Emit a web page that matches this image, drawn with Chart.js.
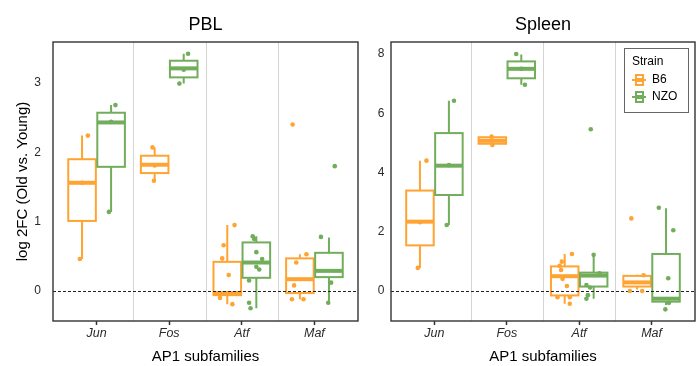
<!DOCTYPE html>
<html>
<head>
<meta charset="utf-8">
<script src="https://cdn.jsdelivr.net/npm/chart.js@4.4.0/dist/chart.umd.min.js"></script>
<style>
  body { margin: 0; background: #fff; width: 699px; height: 366px; overflow: hidden; position: relative; }
  #pbl { position: absolute; left: 0; top: 0; }
  #spleen { position: absolute; left: 362px; top: 0; }
</style>
</head>
<body>
<canvas id="pbl" width="362" height="366"></canvas>
<canvas id="spleen" width="337" height="366"></canvas>
<script>
const categories = ["Jun", "Fos", "Atf", "Maf"];
const strains = ["B6", "NZO"];
const pblTicks = [0, 1, 2, 3];
const spleenTicks = [0, 2, 4, 6, 8];

// box stats per category: [lower whisker, Q1, median, Q3, upper whisker]
const pblB6Box = [[0.46, 1.01, 1.56, 1.90, 2.24], [1.59, 1.70, 1.82, 1.95, 2.07], [-0.19, -0.06, -0.03, 0.42, 0.95], [-0.12, -0.03, 0.17, 0.47, 0.53]];
const pblNzoBox = [[1.14, 1.79, 2.43, 2.57, 2.68], [2.99, 3.08, 3.21, 3.32, 3.42], [-0.25, 0.19, 0.41, 0.70, 0.79], [-0.17, 0.20, 0.29, 0.55, 0.77]];
const spleenB6Box = [[0.78, 1.54, 2.34, 3.39, 4.40], [4.93, 4.97, 5.07, 5.19, 5.21], [-0.43, -0.15, 0.50, 0.83, 1.25], [0.05, 0.15, 0.29, 0.51, 0.55]];
const spleenNzoBox = [[2.23, 3.24, 4.23, 5.33, 6.42], [6.96, 7.18, 7.50, 7.75, 7.98], [-0.26, 0.15, 0.52, 0.62, 1.22], [-0.47, -0.36, -0.26, 1.25, 2.79]];

// single samples per category
const pblB6Pts = [[0.46, 1.56, 2.24], [1.59, 1.81, 2.07], [0.95, 0.66, 0.47, 0.23, -0.10, -0.19], [2.40, 0.53, 0.41, 0.08, -0.12, -0.12]];
const pblNzoPts = [[1.14, 2.44, 2.68], [2.99, 3.19, 3.42], [0.79, 0.75, 0.56, 0.46, 0.35, 0.31, 0.15, -0.17, -0.25], [1.80, 0.78, 0.12, -0.17]];
const spleenB6Pts = [[0.78, 2.32, 4.40], [4.93, 5.07, 5.21], [1.25, 0.99, 0.85, 0.71, 0.41, 0.17, -0.21, -0.21, -0.43], [2.45, 0.53, 0.0, 0.0]];
const spleenNzoPts = [[2.23, 4.25, 6.42], [6.96, 7.50, 8.00], [5.46, 1.22, 0.60, 0.20, 0.12, -0.14, -0.26], [2.81, 2.05, 0.43, -0.40, -0.62]];

// horizontal jitter of each sample (category units)
const pblB6Jit = [[-0.03, 0, 0.08], [-0.01, 0, -0.03], [0.10, -0.05, -0.07, 0.02, -0.10, 0.07], [-0.10, 0.09, -0.05, -0.08, -0.11, 0.05]];
const pblNzoJit = [[-0.03, 0, 0.06], [-0.06, 0, 0.06], [-0.05, -0.03, 0, 0.08, 0, 0.04, -0.10, -0.10, -0.08], [0.08, -0.11, 0.03, -0.01]];
const spleenB6Jit = [[-0.03, 0, 0.09], [0, 0, -0.01], [0.10, -0.04, -0.07, -0.05, -0.03, 0.03, -0.10, 0.07, 0.07], [-0.08, 0.09, -0.10, 0.07]];
const spleenNzoJit = [[-0.03, 0, 0.07], [0.05, 0, -0.07], [-0.04, 0, 0.08, -0.10, -0.05, -0.08, -0.10], [-0.10, 0.10, 0.03, 0.04, -0.01]];

const colors = ["#FFA433", "#72AD5C"];
const dodge = [-0.2, 0.2];
const halfBox = 0.19;
const FONT = "'Liberation Sans', Arial, sans-serif";

function points(pts, jit, s) {
  const out = [];
  pts.forEach((arr, i) => arr.forEach((v, j) => out.push({ x: i + 1 + dodge[s] + jit[i][j], y: v })));
  return out;
}

const boxPlugin = {
  id: "boxes",
  beforeDatasetsDraw(chart, args, opts) {
    const { ctx, chartArea: a, scales: { x, y } } = chart;
    ctx.save();
    // category separators
    ctx.strokeStyle = "#d4d4d4";
    ctx.lineWidth = 1;
    [1.5, 2.5, 3.5].forEach(v => {
      const px = Math.round(x.getPixelForValue(v)) + 0.5;
      ctx.beginPath(); ctx.moveTo(px, a.top); ctx.lineTo(px, a.bottom); ctx.stroke();
    });
    opts.boxes.forEach((stats, s) => {
      ctx.strokeStyle = colors[s];
      stats.forEach((b, i) => {
        const c = i + 1 + dodge[s];
        const xc = x.getPixelForValue(c);
        const x0 = x.getPixelForValue(c - halfBox), x1 = x.getPixelForValue(c + halfBox);
        const [lo, q1, med, q3, hi] = b.map(v => y.getPixelForValue(v));
        ctx.lineWidth = 2;
        ctx.beginPath();
        ctx.moveTo(xc, lo); ctx.lineTo(xc, q1);
        ctx.moveTo(xc, q3); ctx.lineTo(xc, hi);
        ctx.stroke();
        ctx.fillStyle = "#fff";
        ctx.fillRect(x0, q3, x1 - x0, q1 - q3);
        ctx.strokeRect(x0, q3, x1 - x0, q1 - q3);
        ctx.lineWidth = 4;
        ctx.beginPath(); ctx.moveTo(x0, med); ctx.lineTo(x1, med); ctx.stroke();
      });
    });
    // zero reference
    const y0 = Math.round(y.getPixelForValue(0)) + 0.5;
    ctx.strokeStyle = "#222";
    ctx.lineWidth = 1;
    ctx.setLineDash([3, 2]);
    ctx.beginPath(); ctx.moveTo(a.left, y0); ctx.lineTo(a.right, y0); ctx.stroke();
    ctx.restore();
  },
  afterDraw(chart, args, opts) {
    const { ctx, chartArea: a } = chart;
    ctx.save();
    ctx.strokeStyle = "#333";
    ctx.lineWidth = 1.4;
    ctx.strokeRect(a.left, a.top, a.right - a.left, a.bottom - a.top);
    ctx.fillStyle = "#000";
    ctx.font = "18px " + FONT;
    ctx.textAlign = "center";
    ctx.textBaseline = "middle";
    ctx.fillText(opts.title, (a.left + a.right) / 2, 25);
    if (opts.legend) {
      const lx = a.right - 71, ly = 48;
      ctx.strokeStyle = "#666";
      ctx.lineWidth = 1;
      ctx.fillStyle = "#fff";
      ctx.fillRect(lx + 0.5, ly + 0.5, 64, 64);
      ctx.strokeRect(lx + 0.5, ly + 0.5, 64, 64);
      ctx.fillStyle = "#000";
      ctx.textAlign = "left";
      ctx.font = "12px " + FONT;
      ctx.fillText("Strain", lx + 8, ly + 14);
      strains.forEach((name, s) => {
        const ky = ly + 32 + s * 17;
        const kx = lx + 15;
        ctx.strokeStyle = colors[s];
        ctx.fillStyle = colors[s];
        ctx.lineWidth = 2;
        ctx.beginPath(); ctx.moveTo(kx - 7, ky); ctx.lineTo(kx + 7, ky); ctx.stroke();
        ctx.fillRect(kx - 4, ky - 6, 9, 12);
        ctx.fillStyle = "#fff";
        ctx.fillRect(kx - 2, ky - 4, 5, 2);
        ctx.fillRect(kx - 2, ky + 2, 5, 2);
        ctx.fillStyle = "#000";
        ctx.fillText(name, lx + 28, ky);
      });
    }
    ctx.restore();
  }
};

function makePanel(id, title, b6Box, nzoBox, b6Pts, nzoPts, b6Jit, nzoJit, yMin, yMax, yTicks, yWidth, tickPad, yTitle, padRight) {
  return new Chart(document.getElementById(id), {
    type: "scatter",
    data: {
      datasets: [
        { label: strains[0], data: points(b6Pts, b6Jit, 0), backgroundColor: colors[0], borderWidth: 0, pointRadius: 2.3 },
        { label: strains[1], data: points(nzoPts, nzoJit, 1), backgroundColor: colors[1], borderWidth: 0, pointRadius: 2.3 }
      ]
    },
    options: {
      responsive: false,
      animation: false,
      layout: { padding: { top: 42, right: padRight, left: 0, bottom: 0 } },
      plugins: {
        legend: { display: false },
        tooltip: { enabled: false },
        boxes: { title: title, boxes: [b6Box, nzoBox], legend: id === "spleen" }
      },
      scales: {
        x: {
          type: "linear", min: 0.4, max: 4.6,
          afterBuildTicks: s => { s.ticks = categories.map((c, i) => ({ value: i + 1 })); },
          afterFit: s => { s.height = 45; },
          ticks: { callback: v => categories[v - 1], font: { family: FONT, size: 12.5, style: "italic" }, color: "#2a2a2a", padding: 1, maxRotation: 0, autoSkip: false },
          grid: { display: true, drawOnChartArea: false, drawTicks: true, tickLength: 4, tickWidth: 1.5, color: "#333" },
          border: { display: false },
          title: { display: true, text: "AP1 subfamilies", font: { family: FONT, size: 15 }, color: "#000", padding: 0 }
        },
        y: {
          min: yMin, max: yMax,
          afterBuildTicks: s => { s.ticks = yTicks.map(v => ({ value: v })); },
          afterFit: s => { s.width = yWidth; },
          ticks: { font: { family: FONT, size: 12 }, color: "#2a2a2a", padding: tickPad },
          grid: { display: false, drawTicks: false },
          border: { display: false },
          title: { display: yTitle !== "", text: yTitle, font: { family: FONT, size: 15 }, color: "#000", padding: { top: 14, bottom: 0 } }
        }
      }
    },
    plugins: [boxPlugin]
  });
}

makePanel("pbl", "PBL", pblB6Box, pblNzoBox, pblB6Pts, pblNzoPts, pblB6Jit, pblNzoJit, -0.433, 3.59, pblTicks, 53, 12, "log 2FC (Old vs. Young)", 1);
makePanel("spleen", "Spleen", spleenB6Box, spleenNzoBox, spleenB6Pts, spleenNzoPts, spleenB6Jit, spleenNzoJit, -1.013, 8.405, spleenTicks, 29, 6.5, "", 0);
</script>
</body>
</html>
